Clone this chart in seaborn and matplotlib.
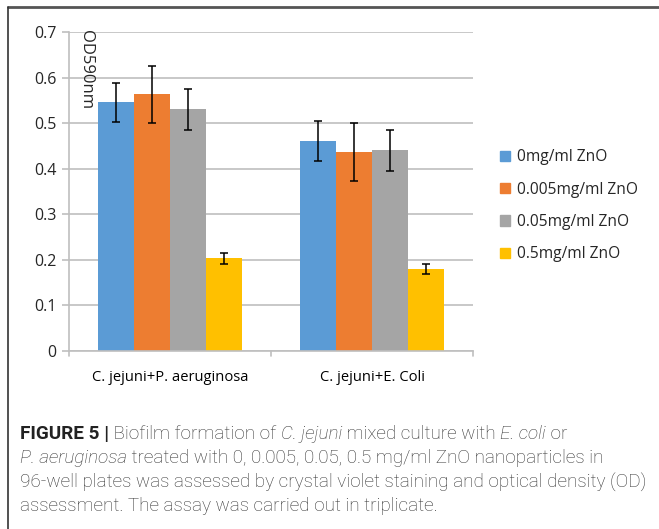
import matplotlib
matplotlib.use("Agg")
import matplotlib.pyplot as plt
import seaborn as sns
import pandas as pd
from matplotlib.lines import Line2D

categories = ["C. jejuni+P. aeruginosa", "C. jejuni+E. Coli"]
treatments = ["0mg/ml ZnO", "0.005mg/ml ZnO", "0.05mg/ml ZnO", "0.5mg/ml ZnO"]
means_pa = [0.546, 0.563, 0.530, 0.203]
means_ec = [0.461, 0.437, 0.441, 0.181]
err_pa = [0.043, 0.063, 0.045, 0.011]
err_ec = [0.043, 0.063, 0.045, 0.011]
colors = ["#5B9BD5", "#ED7D31", "#A5A5A5", "#FFC000"]
yticks = [0, 0.1, 0.2, 0.3, 0.4, 0.5, 0.6, 0.7]

rows = []
for t, m1, m2, e1, e2 in zip(treatments, means_pa, means_ec, err_pa, err_ec):
    rows.append({"cat": categories[0], "trt": t, "val": m1, "err": e1})
    rows.append({"cat": categories[1], "trt": t, "val": m2, "err": e2})
df = pd.DataFrame(rows)

sns.set_style("white")
CF = ["Open Sans", "DejaVu Sans"]
plt.rcParams["font.family"] = CF

fig = plt.figure(figsize=(6.59, 5.29), dpi=100)
ax = fig.add_axes([69/659, 1-351/529, (473-69)/659, (351-32)/529])

sns.barplot(data=df, x="cat", y="val", hue="trt", order=categories,
            hue_order=treatments, palette=colors, width=0.71, errorbar=None,
            saturation=1, ax=ax, legend=True, linewidth=0)

# error bars from bar patches
for container, t in zip(ax.containers, treatments):
    for bar, cat in zip(container, categories):
        e = df[(df.trt == t) & (df.cat == cat)]["err"].iloc[0]
        x = bar.get_x() + bar.get_width() / 2
        ax.errorbar(x, bar.get_height(), yerr=e, fmt="none", ecolor="black",
                    elinewidth=1.1, capsize=2.9, capthick=1.1, zorder=5)

ax.set_ylim(0, 0.7)
ax.set_xlim(-0.5, 1.5)
ax.set_yticks(yticks)
ax.set_yticklabels(["0", "0.1", "0.2", "0.3", "0.4", "0.5", "0.6", "0.7"],
                   fontsize=11.5, color="#262626")
ax.yaxis.grid(True, color="#BFBFBF", linewidth=1.2)
ax.set_axisbelow(True)
for s in ["top", "right"]:
    ax.spines[s].set_visible(False)
for s in ["left", "bottom"]:
    ax.spines[s].set_color("#BFBFBF")
    ax.spines[s].set_linewidth(1.2)
ax.tick_params(axis="y", length=5, width=1.2, color="#BFBFBF", pad=4, left=True)
ax.tick_params(axis="x", length=0, pad=14, labelsize=10.6, labelcolor="#000000")
# category boundary ticks on x axis
for xb in [-0.5, 0.5, 1.5]:
    ax.plot([xb, xb], [0, -0.012], color="#BFBFBF", lw=1.2, clip_on=False,
            transform=ax.transData)
ax.set_xlabel("")
ax.set_ylabel("")
ax.text(0.022, 1.005, "OD590nm", transform=ax.transAxes, rotation=270,
        ha="left", va="top", fontsize=12, color="#262626")

handles = [plt.Rectangle((0, 0), 1, 1, color=c) for c in colors]
ax.legend(handles, treatments, loc="upper left", bbox_to_anchor=(494/659, 1-143/529),
          bbox_transform=fig.transFigure, frameon=False, fontsize=11.2,
          handlelength=0.65, handleheight=0.65, handletextpad=0.4, labelspacing=1.05,
          borderaxespad=0)

# outer frame (top and left lines)
fig.add_artist(Line2D([8/659, 1], [1-6.5/529, 1-6.5/529], color="#555555", lw=2,
                      transform=fig.transFigure))
fig.add_artist(Line2D([8/659, 8/659], [0, 1-6.5/529], color="#333333", lw=1.2,
                      transform=fig.transFigure))

# caption with mixed styles
CAP = ["Roboto", "DejaVu Sans"]
lines = [
    [("FIGURE 5 |", "normal", "bold"), (" Biofilm formation of ", "normal", "light"),
     ("C. jejuni", "italic", "light"), (" mixed culture with ", "normal", "light"),
     ("E. coli", "italic", "light"), (" or", "normal", "light")],
    [("P. aeruginosa", "italic", "light"),
     (" treated with 0, 0.005, 0.05, 0.5 mg/ml ZnO nanoparticles in", "normal", "light")],
    [("96-well plates was assessed by crystal violet staining and optical density (OD)", "normal", "light")],
    [("assessment. The assay was carried out in triplicate.", "normal", "light")],
]
ys = [434, 458, 482, 506]
fig.canvas.draw()
renderer = fig.canvas.get_renderer()
for segs, ypx in zip(lines, ys):
    xpx = 20
    for txt, style, weight in segs:
        t = fig.text(xpx/659, 1-ypx/529, txt, fontsize=13.6, family=CAP, style=style,
                     weight=weight, color="#333333" if weight != "bold" else "#222222",
                     ha="left", va="center")
        bb = t.get_window_extent(renderer=renderer)
        xpx += bb.width

fig.savefig("out.png", dpi=100)
